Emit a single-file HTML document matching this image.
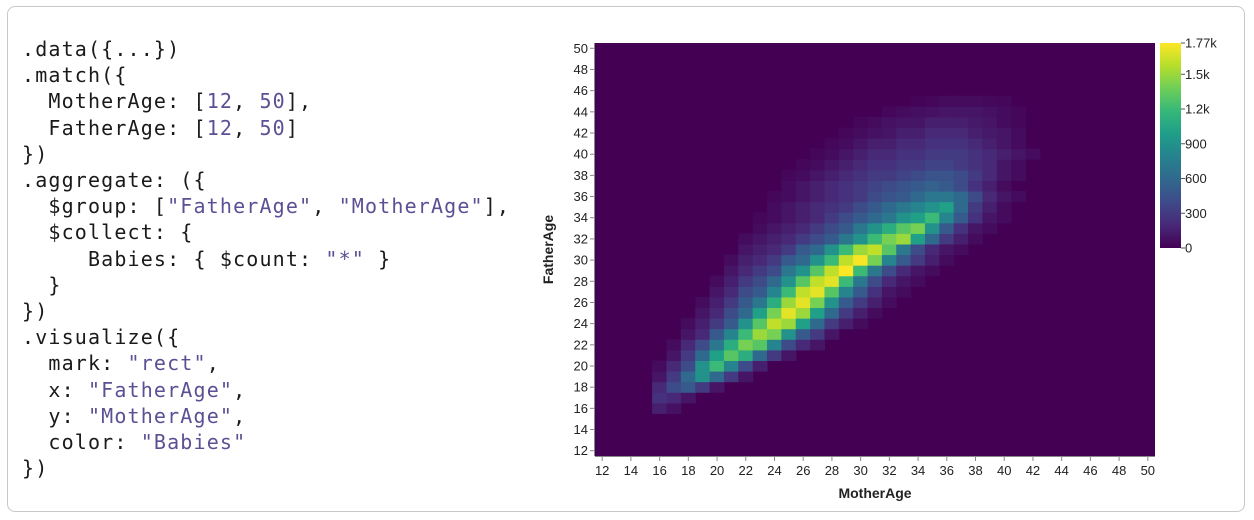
<!DOCTYPE html>
<html><head><meta charset="utf-8"><style>
body{margin:0;width:1254px;height:520px;background:#fff;overflow:hidden;font-family:"Liberation Sans",sans-serif}
.card{position:absolute;left:7px;top:6px;width:1238px;height:506px;border:1px solid #c8c8c8;border-radius:8px;box-sizing:border-box}
pre{position:absolute;left:22px;top:36px;margin:0;font-family:"DejaVu Sans Mono","Liberation Mono",monospace;font-size:20px;line-height:26.2px;color:#1a1a1a;letter-spacing:1.15px}
.s{color:#5d4f94}
</style></head><body>
<div class="card"></div>
<pre>.data({...})
.match({
  MotherAge: [<span class="s">12</span>, <span class="s">50</span>],
  FatherAge: [<span class="s">12</span>, <span class="s">50</span>]
})
.aggregate: ({
  $group: [<span class="s">"FatherAge"</span>, <span class="s">"MotherAge"</span>],
  $collect: {
     Babies: { $count: <span class="s">"*"</span> }
  }
})
.visualize({
  mark: <span class="s">"rect"</span>,
  x: <span class="s">"FatherAge"</span>,
  y: <span class="s">"MotherAge"</span>,
  color: <span class="s">"Babies"</span>
})</pre>
<svg id="chart" width="1254" height="520" style="position:absolute;left:0;top:0"></svg>
<script>
const ages=[];for(let a=12;a<=50;a++)ages.push(a);
const xTicks=[12,14,16,18,20,22,24,26,28,30,32,34,36,38,40,42,44,46,48,50];
const yTicks=xTicks;
const legendTicks=[0,300,600,900,1200,1500];
const legendTickLabels=["0","300","600","900","1.2k","1.5k"];
const maxCount=1770;
// rows: father age, start mother age, counts (hundreds)
const rowFather=[16,17,18,19,20,21,22,23,24,25,26,27,28,29,30,31,32,33,34,35,36,37,38,39,40,41,42,43,44,45];
const rowStart=[16,16,16,16,16,17,17,18,18,19,19,20,20,21,21,22,22,23,23,24,24,25,25,26,27,28,29,30,32,34];
const rowCounts=[
[1.5,0.8],
[2.5,2,1],
[2,4,5,3,1],
[1,3,6,9,6,3,1],
[0.5,2,4,9,12,8,4,1.5],
[1,3,6,10,13,11,6,3,1],
[0.5,2,4,7,11,14,13,8,4,2,1],
[1,2,5,8,12,15,14,9,5,3,1],
[0.5,1.5,3,5,9,13,16,15,10,6,3,1.5,0.5],
[1,2,4,6,10,14,17,15,10,6,3,1.5,0.5],
[0.5,1.5,3,5,7,11,15,17,14,9,5,3,1.5,0.5],
[1,2,4,5,8,12,16,17,13,8,5,2.5,1,0.5],
[0.5,1.5,3,4,6,9,13,16,17,12,7,4,2,1,0.5],
[1,2,3,4,7,9,13,16,17.7,12,7,4,2,1,0.5],
[0.5,1.5,2,3,5,6,9,12,16,17.5,14,8,5,3,1.5,0.5],
[1,1.5,2,3,5,6,9,12,15,16,13,7,4,2,1,0.5],
[0.5,1,1.5,2,3,4,5,7,9,12,14,15,10,6,3,1.5,0.5],
[0.5,1,1.5,2,3,4,5,7,9,11,13,14,9,5,2.5,1,0.5],
[0.3,0.5,1,1.5,2,3,4,5,6,7,9,10,12,8,5,2.5,1,0.5],
[0.5,1,1.5,2,2.5,3,4,5,6,7,8,9,10,6,3,1.5,0.5],
[0.3,0.5,1,1.5,2,2.5,3,4,4.5,5,6,7,7,6,4,2,1,0.5],
[0.5,1,1.5,2,2.5,3,3.5,4,4.5,5,5.5,5,4,2.5,1.5,0.5],
[0.3,0.5,1,1.5,2,2.5,3,3,3.5,4,4.5,4.5,4,3,2,1,0.5],
[0.3,0.5,1,1.5,2,2.5,2.5,3,3,3.5,3.5,3,2.5,2,1,0.5],
[0.3,0.5,1,1.5,2,2,2.5,2.5,3,3,3,2.5,2,1.5,1,0.5],
[0.3,0.5,1,1.5,1.5,2,2,2.5,2.5,2.5,2,1.5,1,0.5],
[0.3,0.5,0.8,1,1.5,1.5,2,2,2,1.5,1.2,1,0.5],
[0.3,0.5,0.8,1,1,1.5,1.5,1.5,1.2,1,0.5,0.3],
[0.3,0.5,0.7,0.8,1,1,1,0.8,0.5,0.3],
[0.2,0.3,0.5,0.5,0.5,0.4,0.3]
];
const NS="http://www.w3.org/2000/svg";
const svg=document.getElementById('chart');
const L=595,R=1155,T=43,B=456;
const cw=(R-L)/ages.length,ch=(B-T)/ages.length;
const xPos=a=>L+(a-12)*cw, yPos=a=>B-(a-11)*ch;
const VIR=[[68,1,84],[72,40,120],[62,74,137],[49,104,142],[38,130,142],[31,158,137],[53,183,121],[110,206,88],[181,222,43],[253,231,37]];
function vir(t){t=Math.max(0,Math.min(1,t))*(VIR.length-1);const i=Math.min(Math.floor(t),VIR.length-2),f=t-i;
const c=VIR[i].map((v,k)=>Math.round(v+(VIR[i+1][k]-v)*f));return `rgb(${c})`;}
function el(tag,attrs,parent){const e=document.createElementNS(NS,tag);for(const k in attrs)e.setAttribute(k,attrs[k]);(parent||svg).appendChild(e);return e;}
const bg=el('rect',{x:L,y:T,width:R-L,height:B-T,fill:vir(0)});


rowFather.forEach((f,ri)=>{rowCounts[ri].forEach((v,ci)=>{const m=rowStart[ri]+ci;
const r=el('rect',{x:xPos(m)-0.3,y:yPos(f)-0.3,width:cw+0.6,height:ch+0.6,fill:vir(v*100/maxCount)});

});});
const ax=el('g',{'font-size':'13','fill':'#222','font-family':'Liberation Sans, sans-serif'});
xTicks.forEach(t=>{const x=xPos(t)+cw/2;el('line',{x1:x,x2:x,y1:B,y2:B+5,stroke:'#888'},ax);
const tx=el('text',{x:x,y:B+19,'text-anchor':'middle'},ax);tx.textContent=t;

});
yTicks.forEach(t=>{const y=yPos(t)+ch/2;el('line',{x1:L-5,x2:L,y1:y,y2:y,stroke:'#888'},ax);
const tx=el('text',{x:L-7,y:y+4.5,'text-anchor':'end'},ax);tx.textContent=t;

});
el('line',{x1:L,x2:R,y1:B+0.5,y2:B+0.5,stroke:'#888'},ax);
el('line',{x1:L-0.5,x2:L-0.5,y1:T,y2:B,stroke:'#888'},ax);
const xt=el('text',{x:(L+R)/2,y:498,'text-anchor':'middle','font-weight':'bold','font-size':'14','fill':'#222'});xt.textContent='MotherAge';


const yt=el('text',{x:0,y:0,transform:`translate(553,${(T+B)/2}) rotate(-90)`,'text-anchor':'middle','font-weight':'bold','font-size':'14','fill':'#222'});yt.textContent='FatherAge';


// legend
const LX=1160,LW=21,LT=43,LB=248;
const defs=el('defs',{});const gr=el('linearGradient',{id:'g',x1:0,y1:1,x2:0,y2:0},defs);
VIR.forEach((c,i)=>el('stop',{offset:i/(VIR.length-1),'stop-color':`rgb(${c})`},gr));
const lg=el('rect',{x:LX,y:LT,width:LW,height:LB-LT,fill:'url(#g)'});


const lval=v=>LB-(v/maxCount)*(LB-LT);
legendTicks.concat([maxCount]).forEach((v,i)=>{const y=lval(v);el('line',{x1:LX+LW,x2:LX+LW+4,y1:y,y2:y,stroke:'#555'});
const tx=el('text',{x:LX+LW+4,y:y+4.5,'font-size':'13','fill':'#222'});tx.textContent=i<legendTicks.length?legendTickLabels[i]:'1.77k';

});
</script>
</body></html>
